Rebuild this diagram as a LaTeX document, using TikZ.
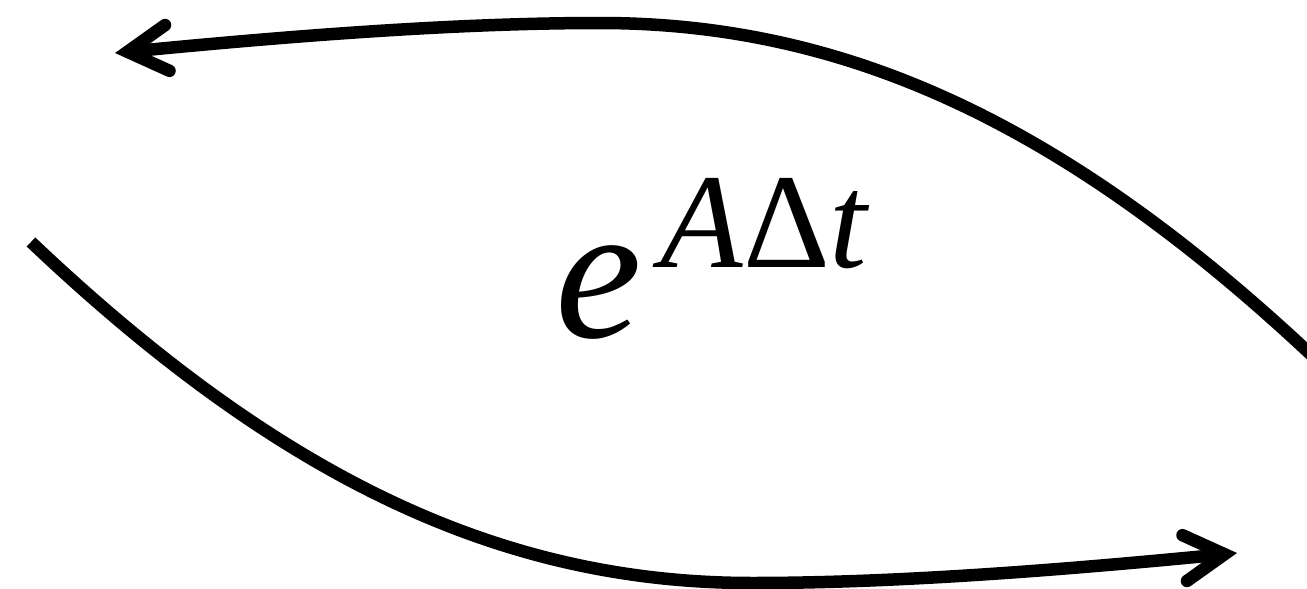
\documentclass[tikz,border=0pt]{standalone}
\usepackage{fontspec}
\setmainfont{Liberation Serif}
\usetikzlibrary{arrows.meta}
\begin{document}
\begin{tikzpicture}[x=1pt,y=-1pt,
  flow/.style={line width=12.5pt, -{Straight Barb[length=40pt,width=46pt,line cap=round,line join=miter]}},
  bigtext/.style={anchor=base west, inner sep=0pt}]
\useasboundingbox (0,0) rectangle (1307,589);
\fill[white] (0,0) rectangle (1307,589);
\clip (0,0) rectangle (1307,589);
% top curve (right to left)
\coordinate (s1) at (1321,364);
\coordinate (m1) at (600,23);
\coordinate (t1) at (115,53);
% bottom curve (left to right), point-symmetric about (676,303)
\coordinate (s2) at (31,242);
\coordinate (m2) at (752,583);
\coordinate (t2) at (1237,553);
\draw[flow] (s1) .. controls (1071,127) and (850,23) .. (m1)
  .. controls (450,23) and (280,37) .. (t1);
\draw[flow] (s2) .. controls (281,479) and (502,583) .. (m2)
  .. controls (902,583) and (1072,569) .. (t2);
\node[bigtext, font=\fontsize{195}{195}\selectfont\itshape] (base) at (555,337) {e};
\node[bigtext, font=\fontsize{135}{135}\selectfont] (sup) at (660,267) {\textit{A}Δ\textit{t}};
\end{tikzpicture}
\end{document}
